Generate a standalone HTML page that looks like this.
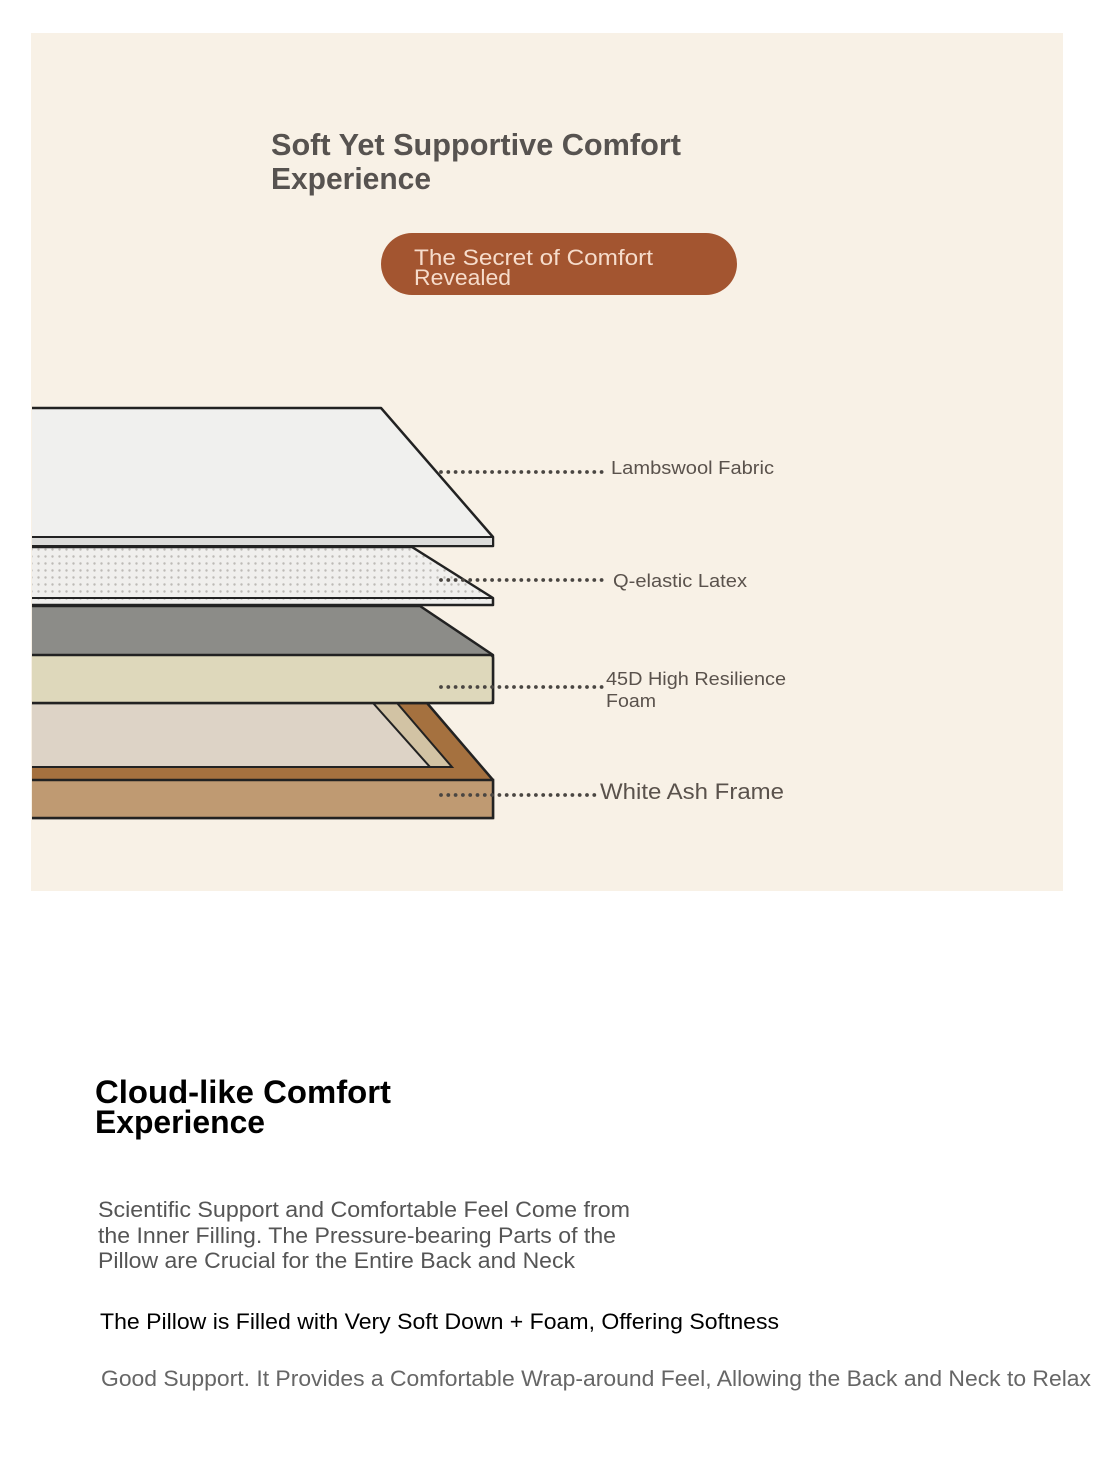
<!DOCTYPE html>
<html><head><meta charset="utf-8"><style>
html,body{margin:0;padding:0;background:#fff;}
svg{display:block;}
text{font-family:"Liberation Sans",sans-serif;}
</style></head><body>
<svg width="1097" height="1470" viewBox="0 0 1097 1470" xmlns="http://www.w3.org/2000/svg">
<defs>
<pattern id="dots" width="7" height="7" patternUnits="userSpaceOnUse">
<rect width="7" height="7" fill="#f0efed"/>
<circle cx="3.5" cy="3.5" r="1.2" fill="#bdbab6"/>
</pattern>
<clipPath id="cl"><rect x="32" y="380" width="500" height="460"/></clipPath>
</defs>
<rect x="0" y="0" width="1097" height="1470" fill="#ffffff"/>
<rect x="31" y="33" width="1032" height="858" fill="#f8f1e6"/>

<text x="271" y="155" font-size="31" font-weight="bold" fill="#575350" textLength="410" lengthAdjust="spacingAndGlyphs">Soft Yet Supportive Comfort</text>
<text x="271" y="189" font-size="31" font-weight="bold" fill="#575350" textLength="160" lengthAdjust="spacingAndGlyphs">Experience</text>

<rect x="381" y="233" width="356" height="62" rx="31" fill="#a35530"/>
<text x="414" y="265" font-size="22" fill="#f6dccb" textLength="239" lengthAdjust="spacingAndGlyphs">The Secret of Comfort</text>
<text x="414" y="285" font-size="22" fill="#f6dccb" textLength="97" lengthAdjust="spacingAndGlyphs">Revealed</text>

<g clip-path="url(#cl)">
<polygon points="20,703 427,703 493,780 493,818 20,818" fill="#a5713f" stroke="#222" stroke-width="2.5" stroke-linejoin="round"/>
<rect x="20" y="780" width="473" height="38" fill="#bf9a72" stroke="#222" stroke-width="2.5"/>
<polygon points="20,703 397,703 452,767 20,767" fill="#d2c3a4" stroke="#222" stroke-width="2"/>
<polygon points="20,703 373,703 430,767 20,767" fill="#ddd3c6" stroke="#222" stroke-width="2"/>
<polygon points="20,606 420,606 493,655 493,703 20,703" fill="#8c8c88" stroke="#222" stroke-width="2.5" stroke-linejoin="round"/>
<rect x="20" y="655" width="473" height="48" rx="3" fill="#ded8bb" stroke="#222" stroke-width="2.5"/>
<polygon points="20,547 412,547 493,598 493,605 20,605" fill="url(#dots)" stroke="#222" stroke-width="2.5" stroke-linejoin="round"/>
<line x1="20" y1="598" x2="493" y2="598" stroke="#222" stroke-width="2"/>
<polygon points="20,408 381,408 493,537 493,546 20,546" fill="#f0f0ee" stroke="#222" stroke-width="2.5" stroke-linejoin="round"/>
<rect x="20" y="537" width="473" height="9" fill="#dcdcda" stroke="#222" stroke-width="2"/>
</g>

<g stroke="#4a4642" stroke-width="3.8" stroke-linecap="round" stroke-dasharray="0 7.3">
<line x1="441" y1="472" x2="606" y2="472"/>
<line x1="441" y1="580" x2="606" y2="580"/>
<line x1="441" y1="687" x2="606" y2="687"/>
<line x1="441" y1="795" x2="600" y2="795"/>
</g>

<g fill="#5a524c">
<text x="611" y="474" font-size="18" textLength="163" lengthAdjust="spacingAndGlyphs">Lambswool Fabric</text>
<text x="613" y="587" font-size="18" textLength="134" lengthAdjust="spacingAndGlyphs">Q-elastic Latex</text>
<text x="606" y="685" font-size="18" textLength="180" lengthAdjust="spacingAndGlyphs">45D High Resilience</text>
<text x="606" y="707" font-size="18" textLength="50" lengthAdjust="spacingAndGlyphs">Foam</text>
<text x="600" y="799" font-size="22" textLength="184" lengthAdjust="spacingAndGlyphs">White Ash Frame</text>
</g>

<text x="95" y="1103" font-size="32" font-weight="bold" fill="#000" textLength="296" lengthAdjust="spacingAndGlyphs">Cloud-like Comfort</text>
<text x="95" y="1133" font-size="32" font-weight="bold" fill="#000" textLength="170" lengthAdjust="spacingAndGlyphs">Experience</text>

<g fill="#555" font-size="22">
<text x="98" y="1217" textLength="532" lengthAdjust="spacingAndGlyphs">Scientific Support and Comfortable Feel Come from</text>
<text x="98" y="1243" textLength="518" lengthAdjust="spacingAndGlyphs">the Inner Filling. The Pressure-bearing Parts of the</text>
<text x="98" y="1268" textLength="477" lengthAdjust="spacingAndGlyphs">Pillow are Crucial for the Entire Back and Neck</text>
</g>
<text x="100" y="1329" font-size="22" fill="#000" textLength="679" lengthAdjust="spacingAndGlyphs">The Pillow is Filled with Very Soft Down + Foam, Offering Softness</text>
<text x="101" y="1386" font-size="22" fill="#666" textLength="990" lengthAdjust="spacingAndGlyphs">Good Support. It Provides a Comfortable Wrap-around Feel, Allowing the Back and Neck to Relax</text>
</svg>
</body></html>
